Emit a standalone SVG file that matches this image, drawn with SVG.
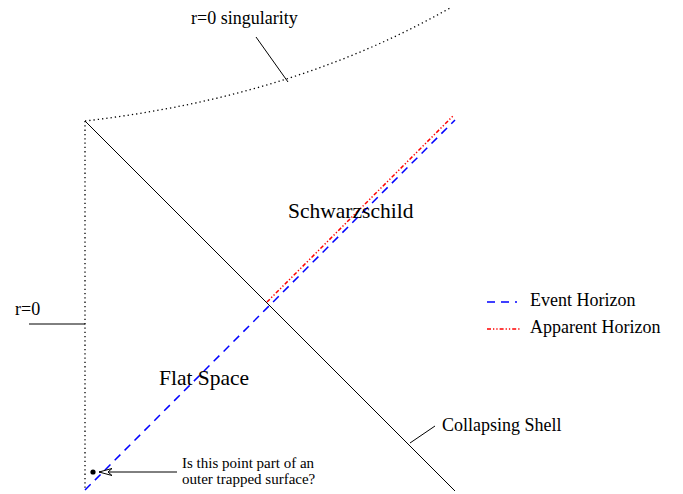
<svg xmlns="http://www.w3.org/2000/svg" width="683" height="494" viewBox="0 0 683 494">
<style>
text{font-family:"Liberation Serif","Times New Roman",serif;fill:#000}
.big{font-size:21.5px}
.mid{font-size:18px}
.sm{font-size:15px}
.solid{stroke:#000;stroke-width:1;fill:none}
.dot{stroke:#000;stroke-width:1.3;fill:none;stroke-dasharray:1.3,3}
.eh{stroke:#0000ff;stroke-width:1.5;fill:none;stroke-dasharray:8,6}
.ah{stroke:#ff0000;stroke-width:1.5;fill:none;stroke-dasharray:4,2,1.3,2,1.3,2}
</style>
<defs>
<marker id="open" markerWidth="18" markerHeight="12" refX="15" refY="6" orient="auto" markerUnits="userSpaceOnUse">
<path d="M15,6 L2,2.5 L6,6 L2,9.5 Z" fill="#fff" stroke="#000" stroke-width="1"/>
</marker>
</defs>
<rect width="683" height="494" fill="#fff"/>
<g id="boundaries">
<path id="singularity" class="dot" d="M85,121 C205,107 330,76 450,8"/>
<line id="r0-axis" class="dot" x1="85" y1="121" x2="85" y2="490"/>
</g>
<g id="connectors">
<line id="shell" class="solid" x1="85" y1="121" x2="455" y2="491"/>
<line id="event-horizon" class="eh" x1="85" y1="490" x2="455" y2="120"/>
<line id="apparent-horizon" class="ah" x1="267" y1="302" x2="453" y2="116"/>
<line class="solid" x1="256" y1="37" x2="288" y2="82"/>
<line class="solid" x1="29" y1="324" x2="85" y2="324"/>
<line class="solid" x1="410" y1="443" x2="435" y2="426"/>
<line class="solid" x1="177" y1="472" x2="99" y2="472" marker-end="url(#open)"/>
</g>
<g id="point">
<circle cx="93" cy="472" r="2.6" fill="#000"/>
</g>
<g id="labels">
<text class="mid" x="191" y="24">r=0 singularity</text>
<text class="mid" x="15" y="315">r=0</text>
<text class="big" x="288" y="218">Schwarzschild</text>
<text class="big" x="159" y="385">Flat Space</text>
<text class="mid" x="442" y="431">Collapsing Shell</text>
<text class="sm" x="182" y="468">Is this point part of an</text>
<text class="sm" x="182" y="484">outer trapped surface?</text>
</g>
<g id="legend">
<line class="eh" x1="487" y1="302" x2="517" y2="302"/>
<text class="mid" x="530" y="306">Event Horizon</text>
<line class="ah" x1="487" y1="329" x2="520" y2="329"/>
<text class="mid" x="530" y="333">Apparent Horizon</text>
</g>
</svg>
